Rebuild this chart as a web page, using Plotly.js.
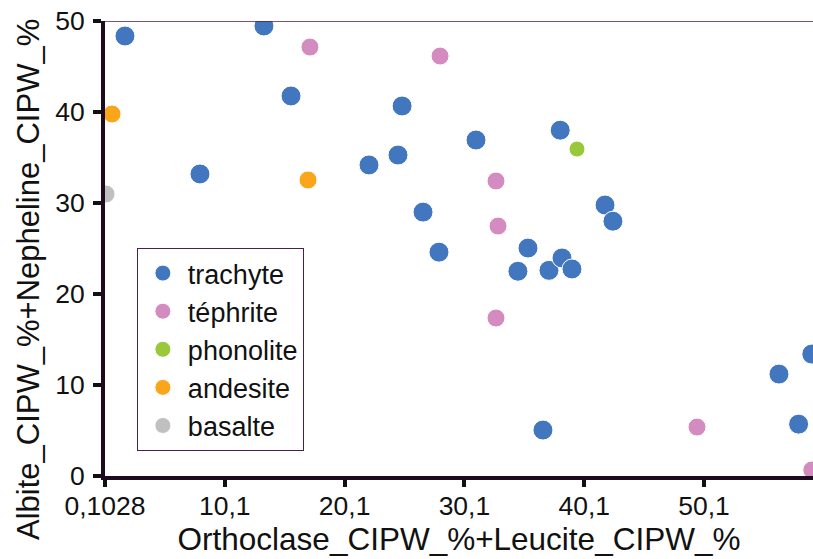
<!DOCTYPE html>
<html><head><meta charset="utf-8">
<script src="https://cdn.plot.ly/plotly-3.0.1.min.js"></script>
<style>html,body{margin:0;padding:0;background:#fff}#c{width:813px;height:559px}</style>
</head><body><div id="c"></div>
<script>
var trachyteX = [1.77, 13.37, 15.63, 8.03, 24.9, 22.14, 24.56, 31.07, 38.1, 26.65, 41.84, 42.5, 27.98, 35.41, 34.57, 37.16, 38.25, 39.08, 36.66, 56.36, 59.1, 58.0];
var trachyteY = [48.35, 49.45, 41.76, 33.19, 40.66, 34.18, 35.27, 36.92, 38.0, 29.0, 29.78, 28.0, 24.6, 25.05, 22.5, 22.6, 23.96, 22.75, 5.05, 11.2, 13.4, 5.7];
var tephriteX = [17.21, 28.07, 32.74, 32.91, 32.74, 49.52, 59.1];
var tephriteY = [47.14, 46.15, 32.42, 27.47, 17.36, 5.38, 0.66];
var phonoliteX = [39.5];
var phonoliteY = [35.93];
var andesiteX = [0.69, 17.05];
var andesiteY = [39.78, 32.53];
var basalteX = [0.19];
var basalteY = [30.99];
var xTickVals = [0.1028, 10.1028, 20.1028, 30.1028, 40.1028, 50.1028];
var xTickText = ["0,1028", "10,1", "20,1", "30,1", "40,1", "50,1"];
var yTickVals = [0, 10, 20, 30, 40, 50];
var xTitle = 'Orthoclase_CIPW_%+Leucite_CIPW_%';
var yTitle = 'Albite_CIPW_%+Nepheline_CIPW_%';

function tr(name, x, y, color, size) {
  return {type: 'scatter', mode: 'markers', name: name, x: x, y: y,
    marker: {color: color, size: size, line: {color: '#ffffff', width: 1}}, cliponaxis: true};
}
var data = [
  tr('trachyte', trachyteX, trachyteY, '#4277c0', 20),
  tr('téphrite', tephriteX, tephriteY, '#d48cc0', 18),
  tr('phonolite', phonoliteX, phonoliteY, '#99c93a', 16),
  tr('andesite', andesiteX, andesiteY, '#fba51a', 18),
  tr('basalte', basalteX, basalteY, '#c0c0c0', 18)
];
var ff = 'Liberation Sans, Arial, sans-serif';
var layout = {
  width: 813, height: 559,
  margin: {l: 105, r: 0, t: 21, b: 83},
  paper_bgcolor: '#ffffff', plot_bgcolor: '#ffffff',
  font: {family: ff, color: '#111111'},
  showlegend: true,
  xaxis: {
    range: [0.1028, 59.2], tickvals: xTickVals, ticktext: xTickText,
    showgrid: false, zeroline: false, showline: true, linecolor: '#1e0b1e', linewidth: 4,
    ticks: 'outside', ticklen: 7, tickwidth: 4, tickcolor: '#111111',
    tickfont: {size: 26.5, family: ff, color: '#111'}, ticklabelstandoff: -4,
    title: {text: xTitle, font: {size: 31.5, family: ff, color: '#111'}, standoff: 8}
  },
  yaxis: {
    range: [0, 50], tickvals: yTickVals,
    showgrid: false, zeroline: false, showline: true, linecolor: '#1e0b1e', linewidth: 4,
    ticks: 'outside', ticklen: 8, tickwidth: 4, tickcolor: '#111111',
    tickfont: {size: 26.5, family: ff, color: '#111'}, ticklabelstandoff: 3
  },
  annotations: [
    {text: yTitle, xref: 'paper', yref: 'paper', x: 0, y: (476 - 280) / 455, xshift: -77,
     xanchor: 'center', yanchor: 'middle', textangle: -90, showarrow: false,
     font: {size: 31, family: ff, color: '#111'}}
  ],
  legend: {
    x: 0.045, y: 0.501, xanchor: 'left', yanchor: 'top',
    bordercolor: '#4b1f4f', borderwidth: 1, bgcolor: '#ffffff',
    font: {size: 27, family: ff, color: '#111'},
    traceorder: 'normal', itemsizing: 'trace', itemwidth: 40
  },
  shapes: [
    {type: 'line', xref: 'paper', yref: 'y', x0: 0, x1: 1, y0: 50, y1: 50, line: {color: '#4b1f4f', width: 1.5}}
  ]
};
Plotly.newPlot('c', data, layout, {displayModeBar: false, staticPlot: true});
</script></body></html>
